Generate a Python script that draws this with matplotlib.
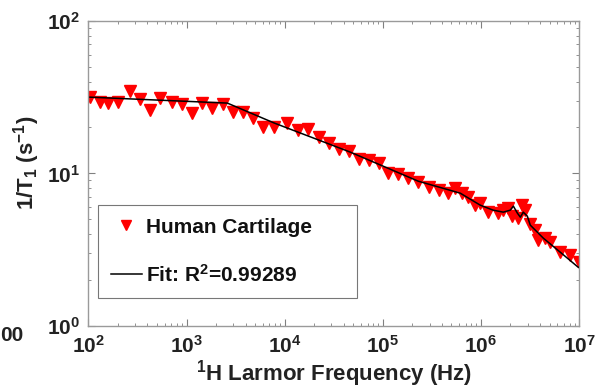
import matplotlib
matplotlib.use("Agg")
import matplotlib.pyplot as plt
import numpy as np

plt.rcParams['font.family'] = ['Liberation Sans', 'DejaVu Sans']
plt.rcParams['font.weight'] = 'bold'
plt.rcParams['mathtext.fontset'] = 'custom'
plt.rcParams['mathtext.rm'] = 'Liberation Sans:bold'
plt.rcParams['mathtext.it'] = 'Liberation Sans:bold'
plt.rcParams['mathtext.bf'] = 'Liberation Sans:bold'
plt.rcParams['mathtext.default'] = 'regular'

# Measured data: 1H Larmor frequency (Hz) vs 1/T1 (s^-1)
freq = [104, 131, 159, 201, 266, 336, 425, 538, 713, 902, 1140, 1443, 1824, 2361,
        2985, 3776, 4777, 6040, 7820, 10600, 13700, 17400, 22500, 28400, 36000,
        45500, 57600, 72800, 92000, 113600, 143700, 181600, 229700, 297000,
        376000, 464000, 547000, 645000, 743000, 875000, 984000, 1.19e6, 1.50e6,
        1.69e6, 1.90e6, 2.09e6, 2.40e6, 2.64e6, 2.83e6, 3.18e6, 3.58e6, 3.84e6,
        4.53e6, 5.09e6, 6.43e6, 8.13e6, 1.0e7]
rate = [31.7, 29.3, 28.9, 29.3, 34.6, 30.7, 26.0, 31.1, 29.3, 28.4, 24.8, 28.9,
        26.8, 28.4, 25.2, 25.2, 23.0, 20.1, 20.1, 21.4, 19.2, 19.5, 17.3, 15.8,
        14.4, 14.0, 12.4, 12.2, 11.7, 10.05, 9.9, 9.3, 8.8, 8.1, 7.8, 7.5, 8.0,
        7.5, 7.0, 6.2, 6.4, 5.6, 5.5, 5.75, 5.9, 5.25, 5.1, 6.2, 5.75, 4.7, 4.25,
        3.66, 3.77, 3.55, 3.05, 2.92, 2.62]

# Fit curve
fit_freq = [104, 2606, 7820, 46600, 229700, 615000, 984000, 1.33e6, 1.69e6,
            1.99e6, 2.14e6, 2.35e6, 2.52e6, 2.70e6, 2.97e6, 3.18e6, 4.32e6,
            6.43e6, 9.8e6]
fit_rate = [31.6, 28.9, 21.4, 13.8, 8.9, 7.43, 6.2, 5.75, 5.58, 5.75, 6.11, 5.5,
            5.17, 5.58, 5.25, 4.59, 3.77, 3.05, 2.43]

fig = plt.figure(figsize=(5.97, 3.92), dpi=100)
ax = fig.add_axes([0.148, 0.168, 0.822, 0.779])

ax.plot(freq, rate, linestyle='none', marker='v', markersize=9,
        color='#ff0000', markeredgecolor='#ff0000', label='Human Cartilage', zorder=2)
ax.plot(fit_freq, fit_rate, color='black', linewidth=1.1,
        label=r'Fit: R$^2$=0.99289', zorder=3)

ax.set_xscale('log')
ax.set_yscale('log')
ax.set_xlim(1e2, 1e7)
ax.set_ylim(1, 100)
ax.set_xticks([1e2, 1e3, 1e4, 1e5, 1e6, 1e7])
ax.set_yticks([1, 10, 100])

for s in ax.spines.values():
    s.set_color('#9a9a9a')
    s.set_linewidth(1.0)
ax.tick_params(which='both', direction='in', top=True, right=True,
               color='#808080', labelsize=15, labelcolor='#222222')
ax.tick_params(which='major', length=5, pad=6)
ax.tick_params(which='minor', length=2.5)

ax.set_xlabel(r'$^{1}$H Larmor Frequency (Hz)', fontsize=16, fontweight='bold',
              color='#222222', labelpad=1)
ax.set_ylabel(r'1/T$_1$ (s$^{-1}$)', fontsize=16, fontweight='bold', color='#222222')
ax.yaxis.set_label_coords(-0.095, 0.534)

leg = ax.legend(loc='lower left', bbox_to_anchor=(0.02, 0.092, 0.528, 0.314),
                mode='expand', fontsize=15,
                frameon=True, fancybox=False, edgecolor='#555555',
                labelspacing=1.3, handlelength=1.5, handletextpad=0.2,
                borderpad=0.6, borderaxespad=0, markerscale=0.8)
leg.get_frame().set_linewidth(0.8)
for t in leg.get_texts():
    t.set_color('#111111')

fig.text(0.0, 0.143, '00', fontsize=15, fontweight='bold', color='#222222',
         ha='left', va='center')

fig.savefig('out.png', dpi=100)
